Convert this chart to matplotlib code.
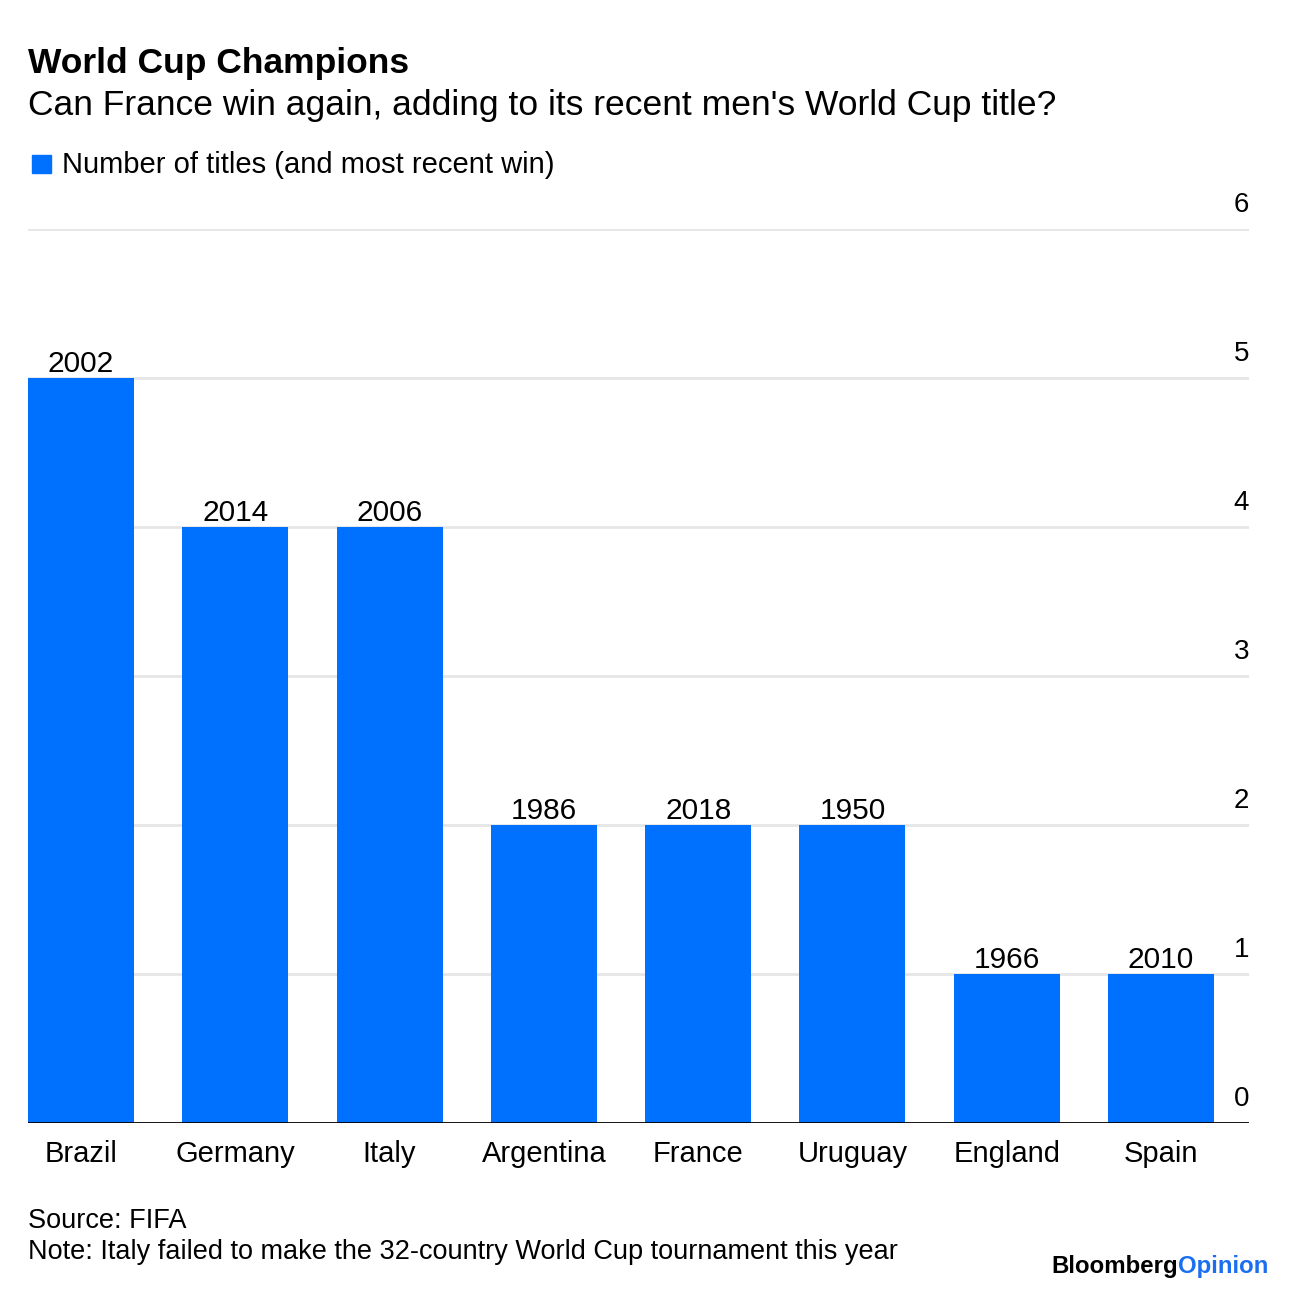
import matplotlib
matplotlib.use("Agg")
import matplotlib.pyplot as plt
import numpy as np

# ── Data ──────────────────────────────────────────────────────────────────────
countries = ["Brazil", "Germany", "Italy", "Argentina", "France", "Uruguay", "England", "Spain"]
titles = [5, 4, 4, 2, 2, 2, 1, 1]
recent_win = ["2002", "2014", "2006", "1986", "2018", "1950", "1966", "2010"]
y_ticks = [0, 1, 2, 3, 4, 5, 6]

BLUE = "#0070ff"
GRID = "#e6e6e6"
W, H = 1296, 1290

plt.rcParams["font.family"] = ["Liberation Sans", "DejaVu Sans"]

fig = plt.figure(figsize=(W / 100, H / 100), dpi=100)
fig.patch.set_facecolor("white")


def fx(px):
    return px / W


def fy(py):
    return 1 - py / H


# axes: left 28px, right 1249px, baseline 1123px, top (y=6) 229px
ax = fig.add_axes([fx(28), fy(1123), (1249 - 28) / W, (1123 - 229) / H])

x = np.arange(len(countries))
bar_w = 0.687
bars = ax.bar(x, titles, bar_w, color=BLUE, zorder=3)
ax.bar_label(bars, labels=recent_win, padding=0, fontsize=21.5, color="black")

ax.set_xlim(-bar_w / 2, 7.57)
ax.set_ylim(0, 6)

for v in y_ticks[1:]:
    ax.axhline(v, color=GRID, linewidth=2, zorder=1)
ax.axhline(0, color="black", linewidth=2, zorder=4)

# y tick labels sit above the gridlines, right aligned
for v in y_ticks:
    ax.annotate(str(v), xy=(1.0, v), xycoords=("axes fraction", "data"),
                xytext=(0, 8), textcoords="offset points",
                ha="right", va="bottom", fontsize=20, annotation_clip=False)

ax.set_xticks(x)
ax.set_xticklabels(countries, fontsize=21)
ax.tick_params(axis="x", length=0, pad=12.5)
ax.set_yticks([])
for s in ax.spines.values():
    s.set_visible(False)

# ── Titles ────────────────────────────────────────────────────────────────────
fig.text(fx(28), fy(63), "World Cup Champions", fontsize=25.5, fontweight="bold",
         ha="left", va="center")
fig.text(fx(28), fy(106), "Can France win again, adding to its recent men's World Cup title?",
         fontsize=25.5, ha="left", va="center")

# legend
fig.patches.append(plt.Rectangle((fx(32), fy(173)), fx(19), 18 / H,
                                 transform=fig.transFigure, color=BLUE))
fig.text(fx(62), fy(165), "Number of titles (and most recent win)", fontsize=21,
         ha="left", va="center")

# ── Footer ────────────────────────────────────────────────────────────────────
fig.text(fx(28), fy(1221), "Source: FIFA", fontsize=19.5, ha="left", va="center")
fig.text(fx(28), fy(1252), "Note: Italy failed to make the 32-country World Cup tournament this year",
         fontsize=19.5, ha="left", va="center")

op = fig.text(fx(1268), fy(1278), "Opinion", fontsize=17.3, fontweight="bold",
              color="#1a6ff0", ha="right", va="bottom")
plt.annotate("Bloomberg", xy=(0, 0), xycoords=op, ha="right", va="bottom",
             fontsize=17.3, fontweight="bold", color="black")

fig.savefig("out.png", dpi=100, facecolor="white")
